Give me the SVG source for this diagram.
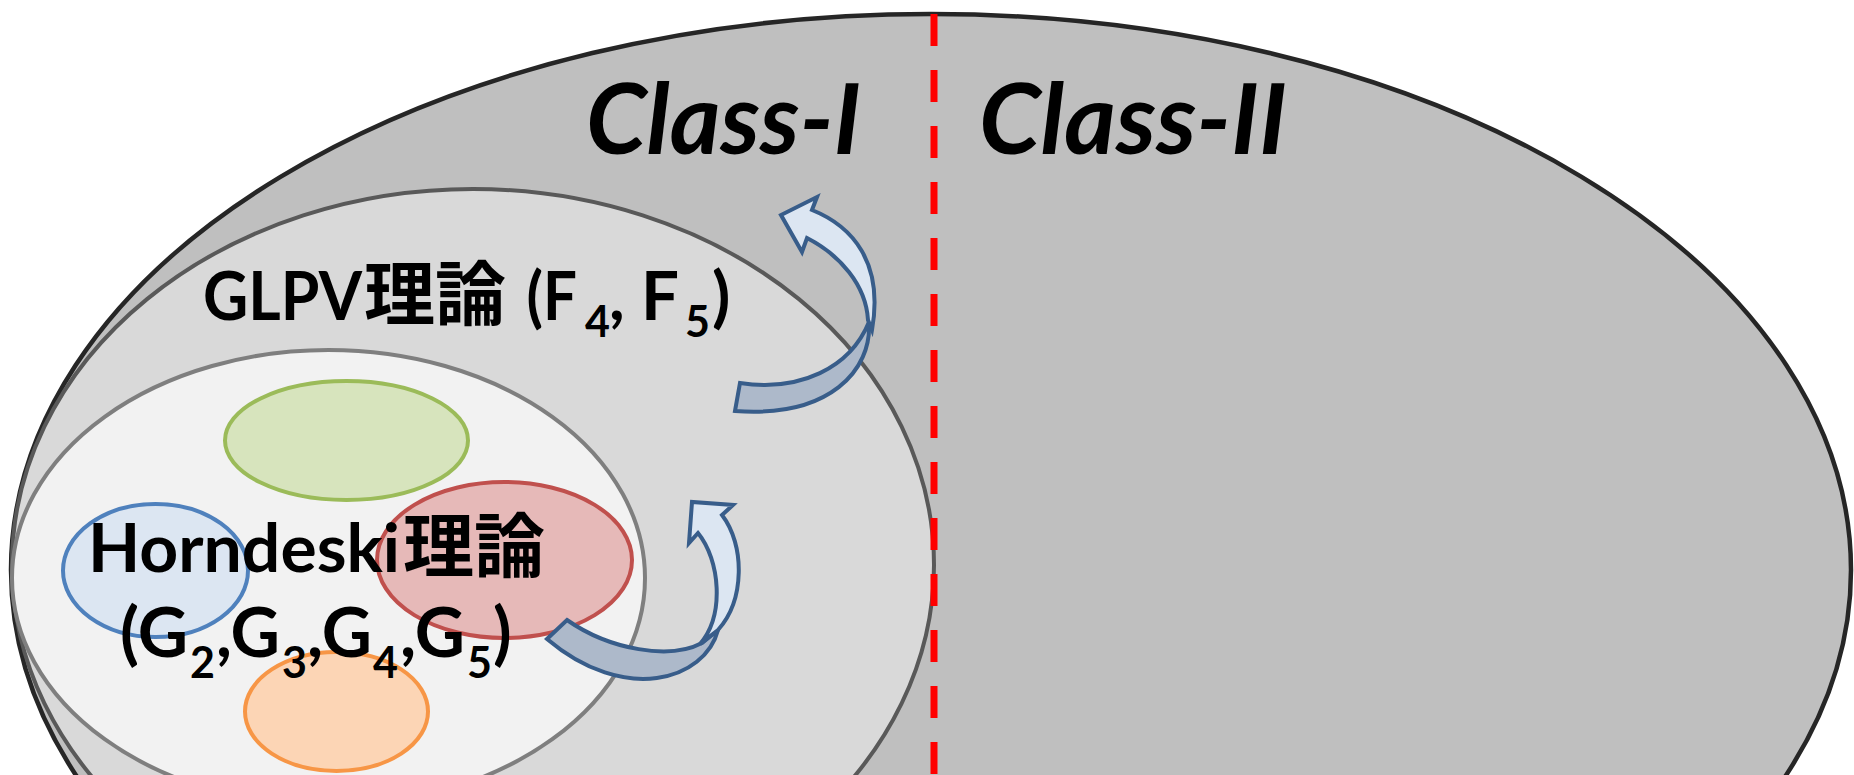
<svg xmlns="http://www.w3.org/2000/svg" width="1854" height="775" viewBox="0 0 1854 775">
<style>
.txt{font-family:Lato,"Noto Sans CJK JP",sans-serif;font-weight:700;fill:#000}
.cjk{font-family:"Noto Sans CJK JP",sans-serif;font-weight:700}
.sub{font-size:43px}
.cls{font-family:Lato,"Liberation Sans",sans-serif;font-weight:700;font-style:italic;fill:#000;font-size:98px}
.sm{stroke-width:4}
.dk{fill:#adb9ca;stroke:#385d8a;stroke-width:4;stroke-linejoin:miter}
.lt{fill:#dce6f2;stroke:#385d8a;stroke-width:4;stroke-linejoin:miter}
</style>
<rect x="0" y="0" width="1854" height="775" fill="#ffffff"/>
<g id="class-region">
<ellipse cx="931" cy="570" rx="920" ry="556" fill="#bfbfbf" stroke="#262626" stroke-width="4.5"/>
</g>
<g id="glpv">
<ellipse cx="473" cy="565" rx="461" ry="376" fill="#d9d9d9" stroke="#595959" stroke-width="4"/>
<text class="txt" font-size="67"><tspan x="203" y="320" textLength="159" lengthAdjust="spacingAndGlyphs">GLPV</tspan><tspan class="cjk" x="364" y="320" font-size="70" textLength="142" lengthAdjust="spacingAndGlyphs">理論</tspan><tspan x="512" y="320" textLength="65" lengthAdjust="spacingAndGlyphs"> (F</tspan><tspan class="sub" x="585" y="337">4</tspan><tspan x="609" y="320" textLength="70" lengthAdjust="spacingAndGlyphs">, F</tspan><tspan class="sub" x="685" y="337">5</tspan><tspan x="712" y="320">)</tspan></text>
</g>
<g id="horndeski">
<ellipse cx="328.5" cy="578" rx="316.5" ry="228" fill="#f2f2f2" stroke="#7f7f7f" stroke-width="4"/>
</g>
<g id="set-green">
<ellipse class="sm" cx="346.5" cy="440.5" rx="121.5" ry="59.5" fill="#d7e4bd" stroke="#9bbb59"/>
</g>
<g id="set-blue">
<ellipse class="sm" cx="155.5" cy="570.5" rx="92.5" ry="66.5" fill="#dce6f2" stroke="#4f81bd"/>
</g>
<g id="set-red">
<ellipse class="sm" cx="504.5" cy="560" rx="127.5" ry="78" fill="#e6b9b8" stroke="#c0504d"/>
</g>
<g id="set-orange">
<ellipse class="sm" cx="336.5" cy="711.5" rx="91.5" ry="59.5" fill="#fcd5b5" stroke="#f79646"/>
</g>
<g id="horndeski-label">
<text class="txt" font-size="66"><tspan x="88" y="572" textLength="312" lengthAdjust="spacingAndGlyphs">Horndeski</tspan><tspan class="cjk" x="403" y="572" font-size="70" textLength="142" lengthAdjust="spacingAndGlyphs">理論</tspan></text>
<text class="txt" font-size="68"><tspan x="120" y="657" textLength="68" lengthAdjust="spacingAndGlyphs">(G</tspan><tspan class="sub" x="190" y="678">2</tspan><tspan x="216" y="657" textLength="64" lengthAdjust="spacingAndGlyphs">,G</tspan><tspan class="sub" x="282" y="678">3</tspan><tspan x="307" y="657" textLength="65" lengthAdjust="spacingAndGlyphs">,G</tspan><tspan class="sub" x="373" y="678">4</tspan><tspan x="400" y="657" textLength="65" lengthAdjust="spacingAndGlyphs">,G</tspan><tspan class="sub" x="467" y="678">5</tspan><tspan x="493" y="657">)</tspan></text>
</g>
<g id="divider">
<line x1="934" y1="14" x2="934" y2="775" stroke="#ff0000" stroke-width="7" stroke-dasharray="32 24"/>
</g>
<g id="class-labels">
<text class="cls" x="586" y="154" textLength="275" lengthAdjust="spacingAndGlyphs">Class-I</text>
<text class="cls" x="979" y="154" textLength="308" lengthAdjust="spacingAndGlyphs">Class-II</text>
</g>
<g id="connectors">
<g id="arrow-glpv-to-class">
<path class="dk" d="M740 383 C800 392 850 368 869 322 C872 370 830 418 735 411 Z"/>
<path class="lt" d="M872 330 C884 262 852 226 812 210 L817 197 L781 215 L802 252 L807 238 C840 255 866 285 868 320 Z"/>
</g>
<g id="arrow-horndeski-to-glpv">
<path class="dk" d="M567 620 C610 650 670 660 702 643 L718 630 C705 680 625 705 547 639 Z"/>
<path class="lt" d="M718 630 C745 600 745 545 722 515 L733 505 L692 502 L689 543 L698 533 C720 560 725 615 700 644 Z"/>
</g>
</g>
</svg>
